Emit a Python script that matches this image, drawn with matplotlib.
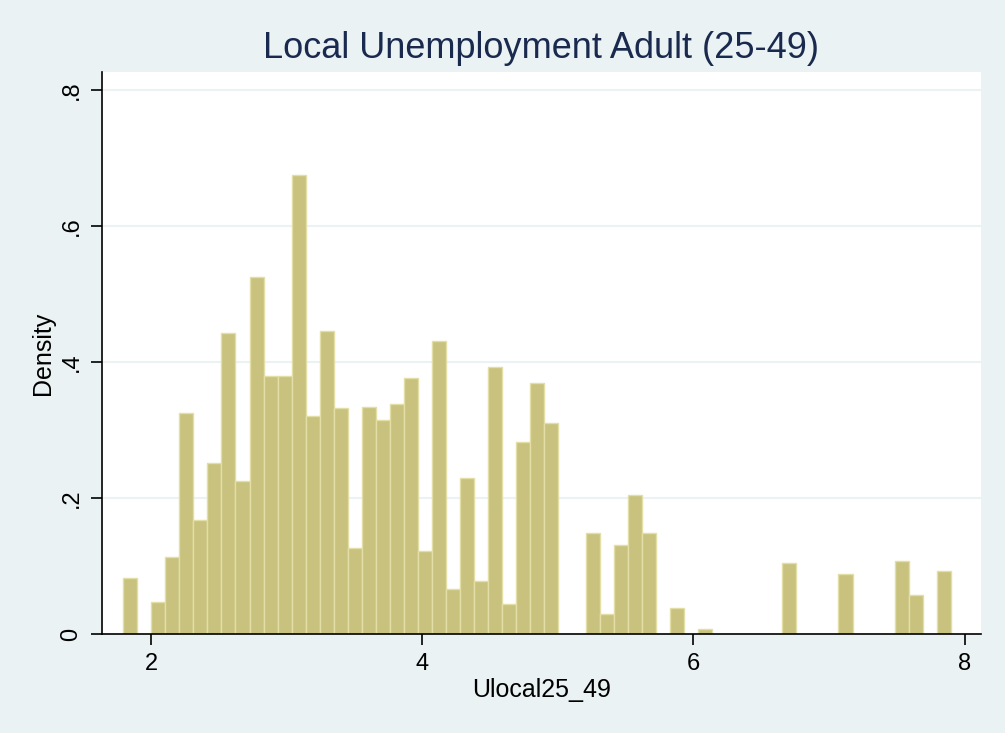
import matplotlib.pyplot as plt
import numpy as np

# Stata-style density histogram, 59 bins of equal width
bin_start = 1.796
bin_width = 0.1034
densities = [0.082, 0.0, 0.0475, 0.113, 0.325, 0.167, 0.252, 0.443, 0.225, 0.525,
             0.380, 0.379, 0.675, 0.321, 0.446, 0.333, 0.127, 0.334, 0.315, 0.338,
             0.376, 0.1225, 0.431, 0.0657, 0.229, 0.078, 0.393, 0.044, 0.282, 0.369,
             0.311, 0.0, 0.0, 0.148, 0.029, 0.131, 0.204, 0.148, 0.0, 0.039,
             0.0, 0.0074, 0.0, 0.0, 0.0, 0.0, 0.0, 0.105, 0.0, 0.0,
             0.0, 0.089, 0.0, 0.0, 0.0, 0.107, 0.057, 0.0, 0.093]
xticks = [2, 4, 6, 8]
yticks = [0, 0.2, 0.4, 0.6, 0.8]
ytick_labels = ['0', '.2', '.4', '.6', '.8']

plt.rcParams['font.family'] = ['Liberation Sans', 'DejaVu Sans']

bg = '#eaf2f3'
fig = plt.figure(figsize=(10.05, 7.33), dpi=100, facecolor=bg)
ax = fig.add_axes([0.1015, 0.135, 0.8746, 0.7667])
ax.set_facecolor('white')

left_edges = bin_start + bin_width * np.arange(len(densities))
ax.bar(left_edges, densities, width=bin_width, align='edge',
       color='#c9c27f', edgecolor='#e2dea6', linewidth=1.0, zorder=2)

# grid lines like Stata's s2color scheme
for y in yticks[1:]:
    ax.axhline(y, color='#eaf2f3', lw=1.5, zorder=1)

ax.set_xlim(1.639, 8.12)
ax.set_ylim(0, 0.8265)
ax.set_xticks(xticks)
ax.set_yticks(yticks)
ax.set_yticklabels(ytick_labels, rotation=90, va='center')
ax.tick_params(axis='both', direction='out', length=8, width=1.2, labelsize=17,
               colors='black', pad=6)
for s in ['top', 'right']:
    ax.spines[s].set_visible(False)
for s in ['left', 'bottom']:
    ax.spines[s].set_linewidth(1.2)

ax.set_xlabel('Ulocal25_49', fontsize=18, labelpad=2)
ax.set_ylabel('Density', fontsize=18, labelpad=4)
fig.text(0.5388, 1 - 58 / 733, 'Local Unemployment Adult (25-49)', fontsize=26,
         color='#1a2a4f', ha='center', va='baseline')

fig.savefig('out.png', dpi=100, facecolor=bg)
